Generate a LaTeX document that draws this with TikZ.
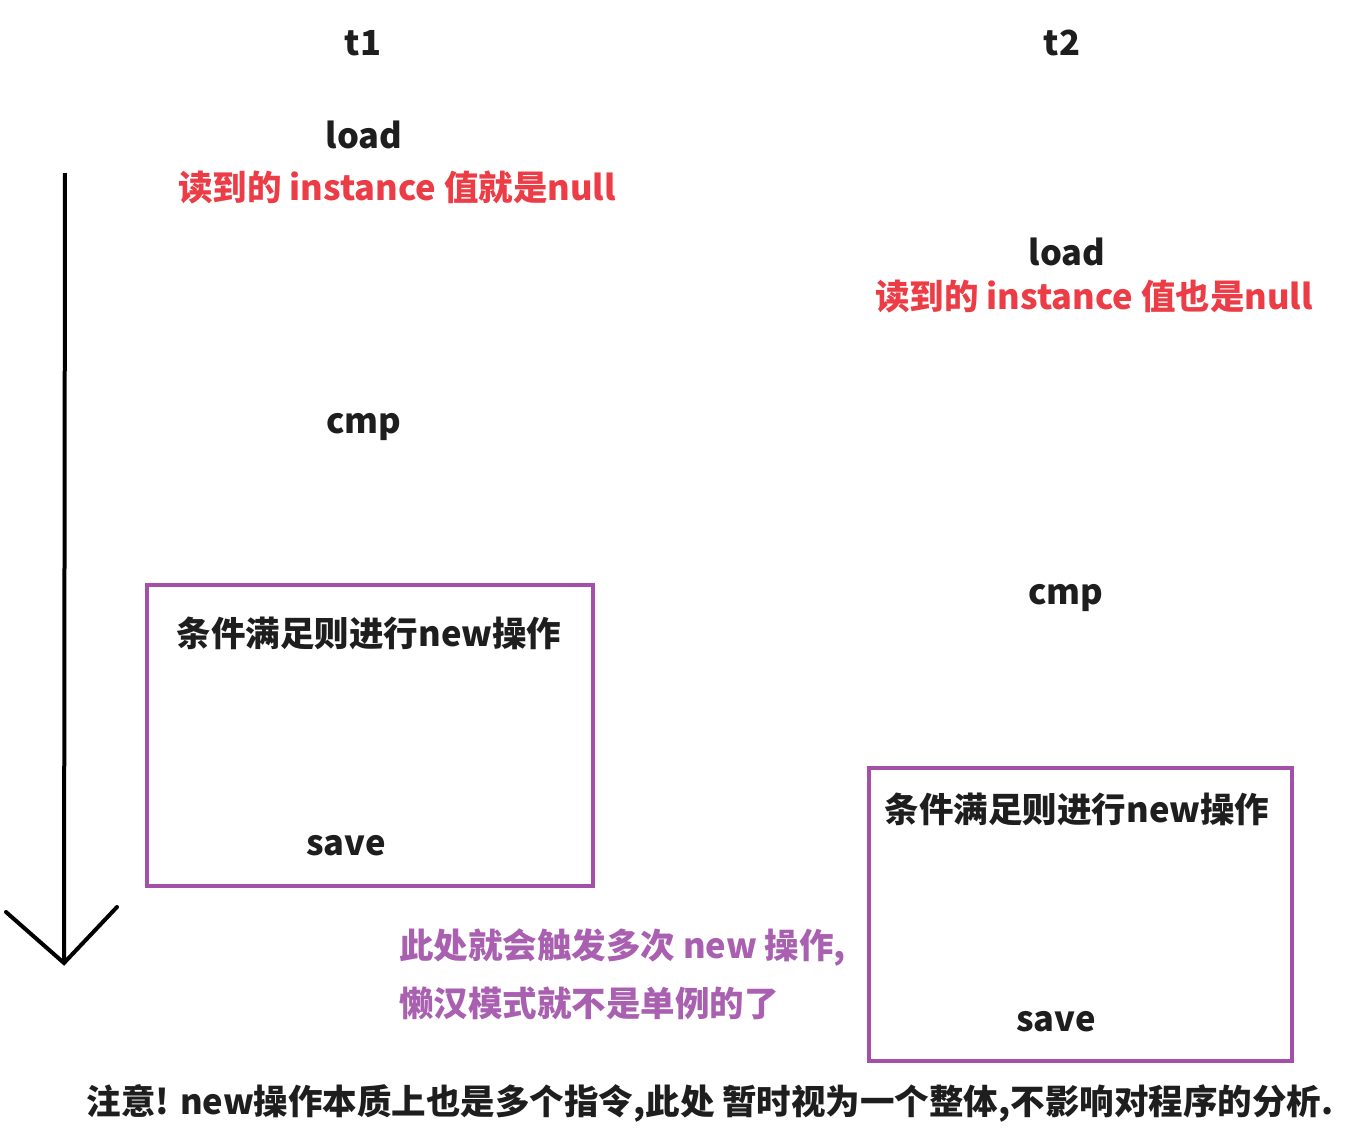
\documentclass[tikz,border=0pt]{standalone}
\usepackage{fontspec}
\setmainfont{Noto Sans CJK SC}
\definecolor{redtxt}{RGB}{236,60,70}
\definecolor{purbox}{RGB}{165,80,168}
\definecolor{purtxt}{RGB}{170,96,176}
\definecolor{ink}{RGB}{30,30,30}
\tikzset{
  lbl/.style={inner sep=0pt, font=\fontsize{34.5}{40}\selectfont\bfseries, text=ink},
  redlbl/.style={lbl, text=redtxt},
  purlbl/.style={lbl, text=purtxt, anchor=west},
  opbox/.style={draw=purbox, line width=4pt, inner sep=0pt},
}
\begin{document}
\begin{tikzpicture}[x=1pt,y=-1pt]
\useasboundingbox (0,0) rectangle (1349,1130);
% timeline arrow
\coordinate (top) at (65,173);
\coordinate (tip) at (64,963);
\coordinate (wl) at (6,912);
\coordinate (wr) at (117,907);
\draw[line width=4pt] (top) -- (tip);
\draw[line width=4pt, line cap=round] (wl) -- (tip) -- (wr);
% headers
\node[lbl] (t1) at (363,43) {t1};
\node[lbl] (t2) at (1062,43) {t2};
% thread 1
\node[lbl] (load1) at (364,135) {load};
\node[redlbl] (read1) at (397,187) {读到的 instance 值就是null};
\node[lbl] (cmp1) at (364,427) {cmp};
\node[opbox, minimum width=446pt, minimum height=301pt] (box1) at (370,735.5) {};
\node[lbl] (new1) at (369,633) {条件满足则进行new操作};
\node[lbl] (save1) at (346,846) {save};
% thread 2
\node[lbl] (load2) at (1067,252) {load};
\node[redlbl] (read2) at (1094,297) {读到的 instance 值也是null};
\node[lbl] (cmp2) at (1066,598) {cmp};
\node[opbox, minimum width=423pt, minimum height=293pt] (box2) at (1080.5,914.5) {};
\node[lbl] (new2) at (1077,809) {条件满足则进行new操作};
\node[lbl] (save2) at (1056,1022) {save};
% comments
\node[purlbl] (c1) at (399,947) {此处就会触发多次 new 操作,};
\node[purlbl] (c2) at (399,1003) {懒汉模式就不是单例的了};
\node[lbl] (note) at (710,1103) {注意! new操作本质上也是多个指令,此处 暂时视为一个整体,不影响对程序的分析.};
\end{tikzpicture}
\end{document}
